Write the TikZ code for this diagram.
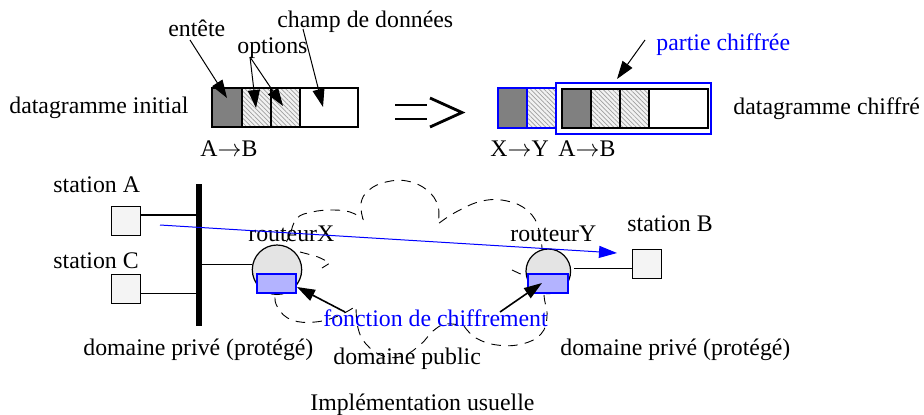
\documentclass[tikz,border=0pt]{standalone}
\usepackage{fontspec}
\setmainfont{Liberation Serif}
\usetikzlibrary{arrows.meta,patterns.meta}

\definecolor{hdrgray}{HTML}{808080}
\definecolor{stationfill}{HTML}{F4F4F4}
\definecolor{routerfill}{HTML}{E4E4E4}
\definecolor{cipherfill}{HTML}{B3B3FF}
\definecolor{cipherblue}{HTML}{0000FF}

% arrow between two addresses, set tight against the letters
\newcommand{\hopto}{\ensuremath{{\rightarrow}}}

\tikzset{
  lbl/.style={font=\fontsize{11.9}{14}\selectfont, inner sep=0pt, anchor=base west},
  bluelbl/.style={lbl, text=cipherblue},
  ptr/.style={-{Triangle[length=9pt,width=6pt]}, line width=0.5pt},
  boldptr/.style={ptr, line width=0.8pt},
  hdrcell/.style={fill=hdrgray},
  optcell/.style={preaction={fill=gray!10},
    pattern={Lines[angle=-45,distance=1.6pt,line width=0.35pt]}, pattern color=gray!75},
  frame/.style={line width=1pt},
  stationbox/.style={draw, fill=stationfill, line width=0.6pt, minimum size=14.5pt,
    inner sep=0pt, anchor=north west},
  router/.style={circle, draw, fill=routerfill, line width=0.6pt, inner sep=0pt},
  cipher/.style={draw=cipherblue, fill=cipherfill, line width=1pt, inner sep=0pt,
    minimum height=9.6pt},
  cloudline/.style={dash pattern=on 4.8pt off 3.6pt, line width=0.45pt},
  wire/.style={line width=0.6pt}
}

\begin{document}
\begin{tikzpicture}[x=0.5pt,y=-0.5pt]
\useasboundingbox (0,0) rectangle (924,414);

% ---------- plain datagram ----------
\fill[hdrcell] (212,88) rectangle (242,127);
\fill[optcell] (242,88) rectangle (300,127);
\draw[frame] (212,88) rectangle (358,127);
\draw[line width=0.8pt] (242,88)--(242,127) (271,88)--(271,127) (300,88)--(300,127);
\coordinate (hdrTip) at (227,98);
\coordinate (opt1Tip) at (256,108);
\coordinate (opt2Tip) at (283,106);
\coordinate (dataTip) at (323,107);

\node[lbl] (tInit) at (9,113.3) {datagramme initial};
\node[lbl] (tEntete) at (168,36.7) {entête};
\node[lbl] (tOptions) at (237,53.5) {options};
\node[lbl] (tChamp) at (277,27.3) {champ de données};
\node[lbl] (tAB1) at (200,156.7) {A\hopto B};

\coordinate (hdrTail) at (190,40);
\coordinate (optTail) at (250,57);
\coordinate (dataTail) at (303,29);
\draw[ptr] (hdrTail) -- (hdrTip);
\draw[ptr] (optTail) -- (opt1Tip);
\draw[ptr] (optTail) -- (opt2Tip);
\draw[ptr] (dataTail) -- (dataTip);

% ---------- the "=>" sign ----------
\draw[line width=1.4pt] (395,105)--(427,105) (395,119)--(427,119);
\draw[line width=1.4pt, line join=miter] (430,98)--(462,112.5)--(430,127);

% ---------- encrypted datagram ----------
\fill[hdrcell] (498,88) rectangle (527,128);
\fill[optcell] (527,88) rectangle (556,128);
\draw[frame, cipherblue] (498,88) rectangle (556,128);
\draw[line width=0.6pt, cipherblue] (527,88)--(527,128);
\fill[hdrcell] (562,89) rectangle (591,128);
\fill[optcell] (591,89) rectangle (649,128);
\draw[frame] (562,89) rectangle (708,128);
\draw[line width=0.8pt] (591,89)--(591,128) (620,89)--(620,128) (649,89)--(649,128);
\draw[frame, cipherblue] (556,83) rectangle (711,134);
\coordinate (cipherTip) at (617,79);

\node[bluelbl] (tPartie) at (656,50) {partie chiffrée};
\coordinate (partieTail) at (645,40);
\draw[ptr] (partieTail) -- (cipherTip);
\node[lbl] (tChiffre) at (733,114) {datagramme chiffré};
\node[lbl] (tXY) at (490,156.7) {X\hopto Y};
\node[lbl] (tAB2) at (558,156.7) {A\hopto B};

% ---------- public domain cloud ----------
\draw[cloudline]
  plot[smooth, tension=0.7] coordinates {(291,232) (297,218) (312,212) (332,210) (350,212) (363,219)}
  -- plot[smooth, tension=0.7] coordinates {(363,219) (361,203) (369,190) (386,182) (407,181) (427,190) (438,206) (438,224)}
  -- plot[smooth, tension=0.7] coordinates {(438,224) (456,212) (482,201) (507,201) (528,211) (539,230) (543,262) (544,295) (547,316) (541,334) (522,344) (497,345) (476,338) (464,326)}
  -- plot[smooth, tension=0.7] coordinates {(464,326) (446,324) (433,331) (421,344) (403,356) (383,356) (366,344) (358,328) (356,306)}
  -- plot[smooth, tension=0.7] coordinates {(356,306) (338,316) (315,322) (292,320) (278,308) (275,292) (279,262) (291,232)};
\draw[cloudline] plot[smooth] coordinates {(300,252) (318,257) (330,263)} -- (322,268);
\draw[cloudline] (512,270) -- (527,277);

% ---------- private network A/C ----------
\coordinate (busTop) at (199,184);
\coordinate (busBot) at (199,326);
\draw[line width=3pt] (busTop) -- (busBot);

\node[stationbox] (stA) at (111,206) {};
\node[stationbox] (stC) at (111,274) {};
\node[lbl] (tStA) at (53,192.7) {station A};
\node[lbl] (tStC) at (53,268.3) {station C};
\coordinate (aPort) at (140,215);
\coordinate (cPort) at (140,293.3);
\draw[wire] (aPort) -- (aPort -| busTop);
\draw[wire] (cPort) -- (cPort -| busTop);

% ---------- routers ----------
\node[router, minimum size=24.7pt] (rX) at (277,269.7) {};
\node[cipher, minimum width=19.7pt] (fX) at (276.5,283.7) {};
\node[router, minimum size=22.3pt] (rY) at (548.3,271.3) {};
\node[cipher, minimum width=20pt] (fY) at (548,283.4) {};
\node[lbl] (tRX) at (248,241.7) {routeurX};
\node[lbl] (tRY) at (510,241.7) {routeurY};

\coordinate (xPort) at (252.3,264.3);
\draw[wire] (xPort -| busTop) -- (xPort);

\node[stationbox] (stB) at (632,249) {};
\node[lbl] (tStB) at (627,231.7) {station B};
\coordinate (yPort) at (574,268.3);
\draw[wire] (yPort) -- (yPort -| stB.west);

% ---------- end-to-end path A -> B ----------
\coordinate (pathStart) at (160,225);
\coordinate (pathEnd) at (617,253);
\draw[ptr, cipherblue] (pathStart) -- (pathEnd);

% ---------- encryption function ----------
\node[bluelbl] (tFonction) at (323,326.7) {fonction de chiffrement};
\coordinate (fnTailX) at (345,312);
\coordinate (fnTailY) at (500,312);
\coordinate (fnTipX) at (297,287);
\coordinate (fnTipY) at (542,283);
\draw[boldptr] (fnTailX) -- (fnTipX);
\draw[boldptr] (fnTailY) -- (fnTipY);

% ---------- domain labels ----------
\node[lbl] (tPrivL) at (83,355) {domaine privé (protégé)};
\node[lbl] (tPrivR) at (560,355) {domaine privé (protégé)};
\node[lbl] (tPublic) at (333,364) {domaine public};
\node[lbl] (tCaption) at (310,410) {Implémentation usuelle};
\end{tikzpicture}
\end{document}
